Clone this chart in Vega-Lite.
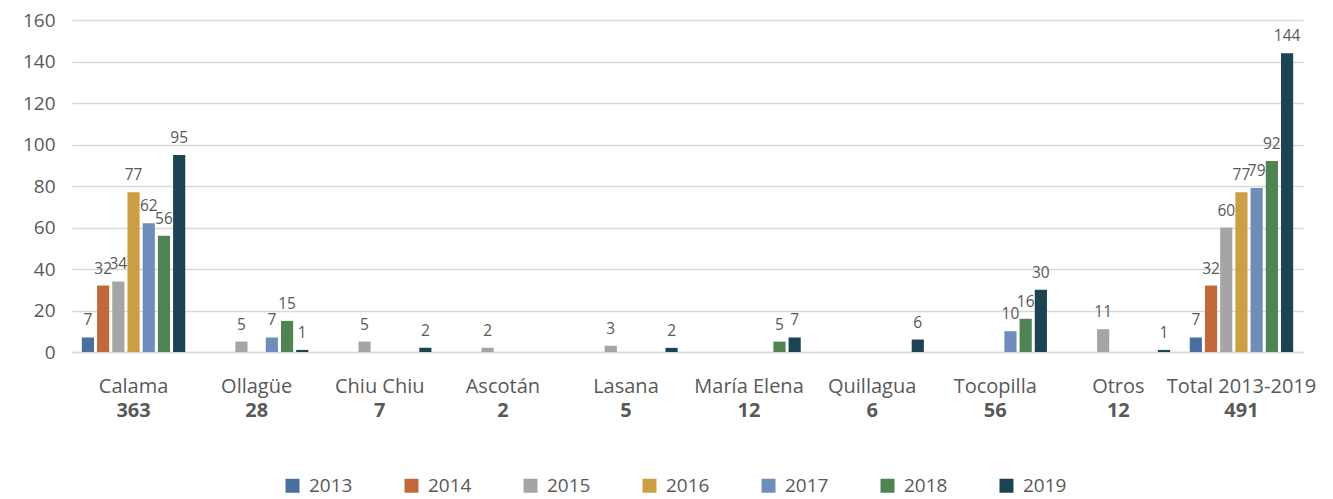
{
  "$schema": "https://vega.github.io/schema/vega-lite/v6.json",
  "width": 1231,
  "height": 332,
  "autosize": {"type": "none"},
  "padding": {"left": 72, "top": 20, "right": 30, "bottom": 147},
  "background": "white",
  "config": {
    "font": "Open Sans",
    "view": {"stroke": null},
    "axis": {"labelFont": "Open Sans", "labelColor": "#595959"}
  },
  "data": {
    "values": [
      {"lugar": "Calama", "anio": "2013", "casos": 7},
      {"lugar": "Calama", "anio": "2014", "casos": 32},
      {"lugar": "Calama", "anio": "2015", "casos": 34},
      {"lugar": "Calama", "anio": "2016", "casos": 77},
      {"lugar": "Calama", "anio": "2017", "casos": 62},
      {"lugar": "Calama", "anio": "2018", "casos": 56},
      {"lugar": "Calama", "anio": "2019", "casos": 95},
      {"lugar": "Ollagüe", "anio": "2015", "casos": 5},
      {"lugar": "Ollagüe", "anio": "2017", "casos": 7},
      {"lugar": "Ollagüe", "anio": "2018", "casos": 15},
      {"lugar": "Ollagüe", "anio": "2019", "casos": 1},
      {"lugar": "Chiu Chiu", "anio": "2015", "casos": 5},
      {"lugar": "Chiu Chiu", "anio": "2019", "casos": 2},
      {"lugar": "Ascotán", "anio": "2015", "casos": 2},
      {"lugar": "Lasana", "anio": "2015", "casos": 3},
      {"lugar": "Lasana", "anio": "2019", "casos": 2},
      {"lugar": "María Elena", "anio": "2018", "casos": 5},
      {"lugar": "María Elena", "anio": "2019", "casos": 7},
      {"lugar": "Quillagua", "anio": "2019", "casos": 6},
      {"lugar": "Tocopilla", "anio": "2017", "casos": 10},
      {"lugar": "Tocopilla", "anio": "2018", "casos": 16},
      {"lugar": "Tocopilla", "anio": "2019", "casos": 30},
      {"lugar": "Otros", "anio": "2015", "casos": 11},
      {"lugar": "Otros", "anio": "2019", "casos": 1},
      {"lugar": "Total 2013-2019", "anio": "2013", "casos": 7},
      {"lugar": "Total 2013-2019", "anio": "2014", "casos": 32},
      {"lugar": "Total 2013-2019", "anio": "2015", "casos": 60},
      {"lugar": "Total 2013-2019", "anio": "2016", "casos": 77},
      {"lugar": "Total 2013-2019", "anio": "2017", "casos": 79},
      {"lugar": "Total 2013-2019", "anio": "2018", "casos": 92},
      {"lugar": "Total 2013-2019", "anio": "2019", "casos": 144}
    ]
  },
  "encoding": {
    "x": {
      "field": "lugar",
      "type": "nominal",
      "sort": ["Calama", "Ollagüe", "Chiu Chiu", "Ascotán", "Lasana", "María Elena", "Quillagua", "Tocopilla", "Otros", "Total 2013-2019"],
      "scale": {"paddingInner": 0.16, "paddingOuter": 0.08},
      "axis": {
        "title": null,
        "labelAngle": 0,
        "labelFontSize": 20,
        "labelPadding": 24,
        "ticks": false,
        "tickSize": 0,
        "domain": true,
        "domainColor": "#d9d9d9",
        "domainWidth": 1.5,
        "grid": false
      }
    }
  },
  "layer": [
    {
      "mark": {"type": "bar"},
      "encoding": {
        "xOffset": {
          "field": "anio",
          "type": "nominal",
          "scale": {"domain": ["2013", "2014", "2015", "2016", "2017", "2018", "2019"], "paddingInner": 0.2, "paddingOuter": 0}
        },
        "y": {
          "field": "casos",
          "type": "quantitative",
          "scale": {"domain": [0, 160]},
          "axis": {
            "title": null,
            "values": [0, 20, 40, 60, 80, 100, 120, 140, 160],
            "labelFontSize": 19,
            "labelPadding": 17,
            "ticks": false,
            "domain": false,
            "gridColor": "#d9d9d9",
            "gridWidth": 1.5
          }
        },
        "color": {
          "field": "anio",
          "type": "nominal",
          "scale": {
            "domain": ["2013", "2014", "2015", "2016", "2017", "2018", "2019"],
            "range": ["#4a6f9e", "#c2693b", "#a5a5a5", "#cc9e45", "#6e8dba", "#4f8352", "#1c4352"]
          },
          "legend": {
            "title": null,
            "orient": "none",
            "legendX": 211,
            "legendY": 456,
            "direction": "horizontal",
            "symbolType": "square",
            "symbolSize": 196,
            "symbolStrokeWidth": 0,
            "labelFontSize": 19,
            "labelColor": "#595959",
            "labelFont": "Open Sans",
            "labelOffset": 7,
            "columnPadding": 49
          }
        }
      }
    },
    {
      "mark": {"type": "text", "dy": -9, "fontSize": 15.5, "color": "#595959", "baseline": "bottom"},
      "encoding": {
        "xOffset": {
          "field": "anio",
          "type": "nominal",
          "scale": {"domain": ["2013", "2014", "2015", "2016", "2017", "2018", "2019"], "paddingInner": 0.2, "paddingOuter": 0}
        },
        "y": {"field": "casos", "type": "quantitative"},
        "text": {"field": "casos", "type": "quantitative"}
      }
    },
    {
      "transform": [
        {"aggregate": [{"op": "sum", "field": "casos", "as": "total"}], "groupby": ["lugar"]}
      ],
      "mark": {"type": "text", "fontSize": 20, "fontWeight": "bold", "color": "#595959", "baseline": "middle", "dy": 59},
      "encoding": {
        "y": {"datum": 0, "type": "quantitative"},
        "text": {"field": "total", "type": "quantitative"}
      }
    }
  ]
}
